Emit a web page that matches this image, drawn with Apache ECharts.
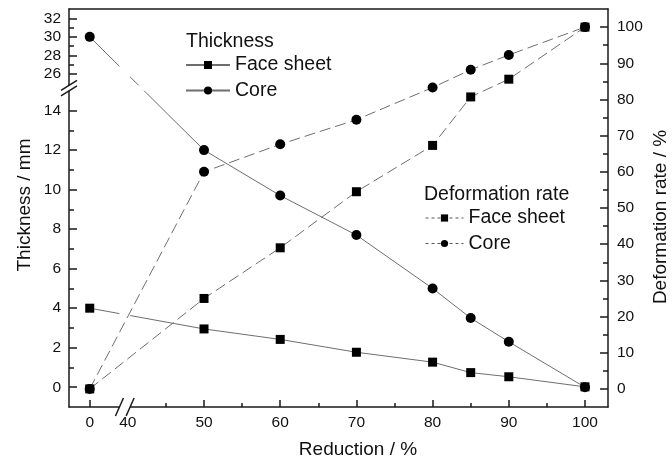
<!DOCTYPE html>
<html>
<head>
<meta charset="utf-8">
<script src="https://cdn.jsdelivr.net/npm/echarts@6/dist/echarts.min.js"></script>
<style>html,body{margin:0;padding:0;background:#fff}#c{width:672px;height:462px}</style>
</head>
<body>
<div id="c"></div>
<script>
// ---- data ----
var reduction = [0, 50, 60, 70, 80, 85, 90, 100];
var thickFace = [4.0, 2.95, 2.42, 1.77, 1.27, 0.74, 0.53, 0.02];
var thickCore = [30.0, 12.0, 9.7, 7.7, 5.0, 3.5, 2.3, 0.0];
var defFace = [0, 25, 39, 54.5, 67.3, 80.7, 85.6, 100];
var defCore = [0, 60, 67.6, 74.4, 83.3, 88.2, 92.3, 100];
var xTickLabels = [0, 40, 50, 60, 70, 80, 90, 100];
var xMinorTicks = [45, 55, 65, 75, 85, 95];
var yLowLabels = [0, 2, 4, 6, 8, 10, 12, 14];
var yLowMinor = [1, 3, 5, 7, 9, 11, 13];
var yHighLabels = [26, 28, 30, 32];
var yHighMinor = [27, 29, 31];
var rightLabels = [0, 10, 20, 30, 40, 50, 60, 70, 80, 90, 100];
var rightMinor = [5, 15, 25, 35, 45, 55, 65, 75, 85, 95];

// ---- broken-axis transforms ----
function xd(x) { return x >= 40 ? x : 35 + x / 8; }
function xinv(d) { return d >= 40 ? d : (d - 35) * 8; }
var Y_UP0 = 15.85, Y_K = 0.47;
function yd(t) { return t <= 15.5 ? t : Y_UP0 + (t - 26) * Y_K; }
function yinv(d) { return d <= 15.5 ? d : 26 + (d - Y_UP0) / Y_K; }

var FONT = 'Liberation Sans, Arial, Helvetica, sans-serif';
var AX = '#1a1a1a';
var LINE = '#6e6e6e';
var LFS = 19.5;

function pts(ys, f) { return reduction.map(function (x, i) { return [xd(x), f(ys[i])]; }); }
function id(v) { return v; }

var chart = echarts.init(document.getElementById('c'), null, { renderer: 'canvas' });

var baseAxis = {
  type: 'value', splitLine: { show: false },
  axisLine: { show: false, onZero: false },
  axisTick: { show: false }, axisLabel: { show: false }
};
function ax(o) { return Object.assign({}, JSON.parse(JSON.stringify(baseAxis)), o); }

var option = {
  animation: false,
  grid: { left: 69, right: 64, top: 9, bottom: 55, containLabel: false },
  title: [
    { text: 'Thickness', left: 186, top: 32, padding: 0,
      textStyle: { fontFamily: FONT, fontSize: LFS, fontWeight: 'normal', color: '#111' } },
    { text: 'Deformation rate', left: 424, top: 185, padding: 0,
      textStyle: { fontFamily: FONT, fontSize: LFS, fontWeight: 'normal', color: '#111' } }
  ],
  legend: [
    { data: ['Face sheet', 'Core'], orient: 'vertical', left: 185, top: 55, padding: 0,
      itemWidth: 44, itemHeight: 10, itemGap: 5.5, selectedMode: false,
      textStyle: { fontFamily: FONT, fontSize: LFS, color: '#111' } },
    { data: ['Face sheet ', 'Core '], orient: 'vertical', left: 425, top: 208, padding: 0,
      itemWidth: 38, itemHeight: 9, itemGap: 5.5, selectedMode: false,
      formatter: function (n) { return n.trim(); },
      lineStyle: { type: [3, 3], width: 1, color: '#555' },
      textStyle: { fontFamily: FONT, fontSize: LFS, color: '#111' } }
  ],
  xAxis: [
    ax({ position: 'bottom', min: 32.28, max: 103.02,
      axisLine: { show: true, onZero: false, lineStyle: { color: AX, width: 1.5 } },
      axisTick: { show: true, inside: true, length: 7, lineStyle: { color: AX, width: 1.5 },
        customValues: [xd(0)].concat(xTickLabels.slice(2).map(xd)) },
      axisLabel: { show: true, margin: 8, fontSize: 15.5, color: '#111', fontFamily: FONT,
        customValues: xTickLabels.map(xd),
        formatter: function (v) { return String(Math.round(xinv(v))); } } }),
    ax({ position: 'bottom', min: 32.28, max: 103.02,
      axisTick: { show: true, inside: true, length: 4, lineStyle: { color: AX, width: 1.5 },
        customValues: xMinorTicks.map(xd) } }),
    ax({ position: 'top', min: 32.28, max: 103.02,
      axisLine: { show: true, onZero: false, lineStyle: { color: AX, width: 1.5 } } })
  ],
  yAxis: [
    ax({ position: 'left', min: -1, max: 19.14,
      axisLine: { show: true, onZero: false, lineStyle: { color: AX, width: 1.5 } },
      axisTick: { show: true, inside: true, length: 8, lineStyle: { color: AX, width: 1.5 },
        customValues: yLowLabels.concat(yHighLabels).map(yd) },
      axisLabel: { show: true, margin: 8, fontSize: 15.5, color: '#111', fontFamily: FONT,
        customValues: yLowLabels.concat(yHighLabels).map(yd),
        formatter: function (v) { return String(Math.round(yinv(v))); } } }),
    ax({ position: 'right', min: -5, max: 105,
      axisLine: { show: true, onZero: false, lineStyle: { color: AX, width: 1.5 } },
      axisTick: { show: true, inside: true, length: 8, lineStyle: { color: AX, width: 1.5 },
        customValues: rightLabels },
      axisLabel: { show: true, margin: 9, fontSize: 15.5, color: '#111', fontFamily: FONT,
        customValues: rightLabels } }),
    ax({ position: 'left', min: -1, max: 19.14,
      axisTick: { show: true, inside: true, length: 5, lineStyle: { color: AX, width: 1.5 },
        customValues: yLowMinor.concat(yHighMinor).map(yd) } }),
    ax({ position: 'right', min: -5, max: 105,
      axisTick: { show: true, inside: true, length: 5, lineStyle: { color: AX, width: 1.5 },
        customValues: rightMinor } })
  ],
  series: [
    { name: 'Face sheet', type: 'line', xAxisIndex: 0, yAxisIndex: 0, z: 2,
      data: pts(thickFace, yd), symbol: 'rect', symbolSize: 9,
      lineStyle: { color: LINE, width: 1 }, itemStyle: { color: '#000' } },
    { name: 'Core', type: 'line', xAxisIndex: 0, yAxisIndex: 0, z: 2,
      data: pts(thickCore, yd), symbol: 'circle', symbolSize: 10,
      lineStyle: { color: LINE, width: 1 }, itemStyle: { color: '#000' } },
    { name: 'Face sheet ', type: 'line', xAxisIndex: 0, yAxisIndex: 1, z: 4,
      data: pts(defFace, id), symbol: 'rect', symbolSize: 9,
      lineStyle: { color: LINE, width: 1, type: [11, 5] }, itemStyle: { color: '#000' } },
    { name: 'Core ', type: 'line', xAxisIndex: 0, yAxisIndex: 1, z: 4,
      data: pts(defCore, id), symbol: 'circle', symbolSize: 10,
      lineStyle: { color: LINE, width: 1, type: [11, 5] }, itemStyle: { color: '#000' } }
  ]
};
chart.setOption(option);

// ---- axis-break decorations, positioned through the axes ----
var L = chart.convertToPixel({ xAxisIndex: 0 }, 32.28);
var R = chart.convertToPixel({ xAxisIndex: 0 }, 103.02);
var T = chart.convertToPixel({ yAxisIndex: 0 }, 19.14);
var B = chart.convertToPixel({ yAxisIndex: 0 }, -1);
var xs1 = chart.convertToPixel({ xAxisIndex: 0 }, 38.9);
var xs2 = chart.convertToPixel({ xAxisIndex: 0 }, 40.3);
var ys1 = chart.convertToPixel({ yAxisIndex: 0 }, 15.28);
var ys2 = chart.convertToPixel({ yAxisIndex: 0 }, 15.0);
var sl = { stroke: AX, lineWidth: 1.5 };
chart.setOption({
  graphic: [
    { type: 'rect', z: 3, silent: true, shape: { x: xs1, y: T + 2, width: xs2 - xs1, height: B - T + 2 }, style: { fill: '#fff' } },
    { type: 'rect', z: 3, silent: true, shape: { x: L - 3, y: ys1, width: R - L + 2, height: ys2 - ys1 }, style: { fill: '#fff' } },
    { type: 'line', z: 5, silent: true, shape: { x1: xs1 - 4, y1: B + 9, x2: xs1 + 4, y2: B - 9 }, style: sl },
    { type: 'line', z: 5, silent: true, shape: { x1: xs2 - 4, y1: B + 9, x2: xs2 + 4, y2: B - 9 }, style: sl },
    { type: 'line', z: 5, silent: true, shape: { x1: L - 8, y1: ys1 + 5, x2: L + 8, y2: ys1 - 5 }, style: sl },
    { type: 'line', z: 5, silent: true, shape: { x1: L - 8, y1: ys2 + 5, x2: L + 8, y2: ys2 - 5 }, style: sl },
    { type: 'text', z: 5, silent: true, x: 358, y: 450,
      style: { text: 'Reduction / %', fontFamily: FONT, fontSize: 19, fill: '#111', align: 'center', verticalAlign: 'middle' } },
    { type: 'text', z: 5, silent: true, x: 25, y: 205, rotation: Math.PI / 2,
      style: { text: 'Thickness / mm', fontFamily: FONT, fontSize: 19, fill: '#111', align: 'center', verticalAlign: 'middle' } },
    { type: 'text', z: 5, silent: true, x: 661, y: 217, rotation: Math.PI / 2,
      style: { text: 'Deformation rate / %', fontFamily: FONT, fontSize: 19, fill: '#111', align: 'center', verticalAlign: 'middle' } }
  ]
});
</script>
</body>
</html>
